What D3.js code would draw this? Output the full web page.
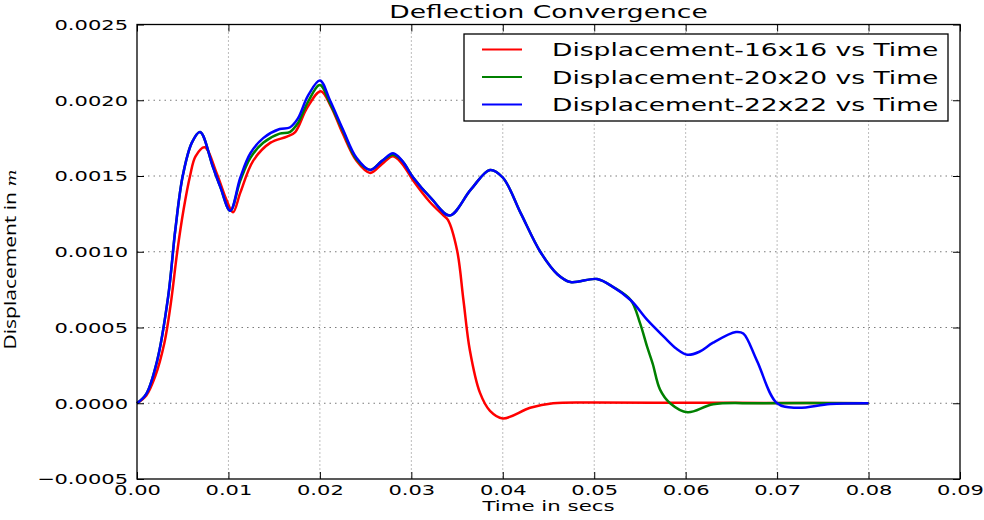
<!DOCTYPE html>
<html>
<head>
<meta charset="utf-8">
<script src="https://cdn.jsdelivr.net/npm/d3@7"></script>
<style>
  html, body { margin: 0; padding: 0; background: #fff; }
  svg { display: block; }
</style>
</head>
<body>
<svg id="chart" width="984" height="520"></svg>
<script>
// Mesh-convergence study: mid-span displacement over time for three meshes.
const seriesNames = [
  "Displacement-16x16 vs Time",
  "Displacement-20x20 vs Time",
  "Displacement-22x22 vs Time"
];
const seriesColors = ["#ff0000", "#008000", "#0000ff"];

const time16 = [0, 0.001, 0.002, 0.003, 0.0037, 0.0044, 0.0051, 0.0058, 0.0064, 0.0074, 0.0087, 0.0098, 0.0105,
  0.0113, 0.0127, 0.0146, 0.0164, 0.0173, 0.0186, 0.0201, 0.0212, 0.0225, 0.024, 0.0255, 0.0268, 0.028,
  0.029, 0.0302, 0.032, 0.0335, 0.034, 0.035, 0.0357, 0.0364, 0.0375, 0.0386, 0.040, 0.043, 0.0455,
  0.050, 0.060, 0.070, 0.080];
const disp16 = [0, 0.00005, 0.00018, 0.0004, 0.00066, 0.001, 0.00128, 0.0015, 0.00163, 0.00169, 0.00152, 0.00134, 0.00126,
  0.00139, 0.0016, 0.00172, 0.00176, 0.00179, 0.00195, 0.00206, 0.00196, 0.00178, 0.0016, 0.00152, 0.00158, 0.00163,
  0.00158, 0.00147, 0.00133, 0.00124, 0.00121, 0.00101, 0.00068, 0.00035, 0.00007, -0.00005, -0.0001, -0.00003, 0,
  0.000005, 0.000003, 0.000002, 0];

const time20 = [0, 0.001, 0.0022, 0.0034, 0.0042, 0.005, 0.006, 0.0069, 0.0083, 0.0091, 0.0102, 0.0113,
  0.0124, 0.0138, 0.0156, 0.0167, 0.0176, 0.0187, 0.02, 0.0211, 0.0225, 0.024, 0.0255, 0.0268, 0.028,
  0.029, 0.0302, 0.0322, 0.0342, 0.0365, 0.0386, 0.040, 0.042, 0.0441, 0.046, 0.0474, 0.0503, 0.052,
  0.054, 0.055, 0.0558, 0.0564, 0.0572, 0.0583, 0.0602, 0.063, 0.068, 0.080];
const disp20 = [0, 0.00006, 0.00028, 0.0007, 0.00115, 0.0015, 0.00172, 0.00179, 0.00156, 0.00143, 0.00127, 0.00147,
  0.00162, 0.00172, 0.00178, 0.00179, 0.00185, 0.00199, 0.0021, 0.00198, 0.0018, 0.00161, 0.00154, 0.0016, 0.00164,
  0.0016, 0.00149, 0.00135, 0.00124, 0.00141, 0.00154, 0.00149, 0.00125, 0.001, 0.00085, 0.0008, 0.00082, 0.00077,
  0.00068, 0.00053, 0.00037, 0.00026, 0.00009, 0, -0.00006, -0.000007, 0, 0];

const time22 = [0, 0.001, 0.0022, 0.0034, 0.0042, 0.005, 0.006, 0.0069, 0.0083, 0.0091, 0.0102, 0.0113,
  0.0124, 0.0138, 0.0156, 0.0167, 0.0176, 0.0187, 0.02, 0.0211, 0.0225, 0.024, 0.0255, 0.0268, 0.028,
  0.029, 0.0302, 0.0322, 0.0342, 0.0365, 0.0386, 0.040, 0.042, 0.0441, 0.046, 0.0474, 0.0503, 0.052,
  0.054, 0.0558, 0.0576, 0.059, 0.0602, 0.0615, 0.063, 0.0655, 0.0663, 0.0678, 0.070, 0.0722, 0.0758, 0.080];
const disp22 = [0, 0.00006, 0.00028, 0.0007, 0.00115, 0.0015, 0.00172, 0.00179, 0.00156, 0.00143, 0.00127, 0.00149,
  0.00165, 0.00175, 0.00181, 0.00182, 0.00188, 0.00203, 0.00213, 0.002, 0.00181, 0.00162, 0.00154, 0.0016, 0.00165,
  0.0016, 0.00149, 0.00135, 0.00124, 0.00141, 0.00154, 0.00149, 0.00125, 0.001, 0.00085, 0.0008, 0.00082, 0.00077,
  0.00068, 0.00055, 0.00044, 0.00036, 0.00032, 0.00034, 0.0004, 0.00047, 0.00046, 0.00028, 0, -0.00003, -0.000005, 0];

const xTicks = [0, 0.01, 0.02, 0.03, 0.04, 0.05, 0.06, 0.07, 0.08, 0.09];
const yTicks = [-0.0005, 0, 0.0005, 0.001, 0.0015, 0.002, 0.0025];

const series = [
  { name: seriesNames[0], color: seriesColors[0], t: time16, v: disp16 },
  { name: seriesNames[1], color: seriesColors[1], t: time20, v: disp20 },
  { name: seriesNames[2], color: seriesColors[2], t: time22, v: disp22 }
];

// Text in this figure is drawn wide; glyphs get a horizontal stretch.
const SX = 1.45;
const FONT = "'DejaVu Sans', sans-serif";

const svg = d3.select("#chart");
const plotLeft = 137, plotRight = 960, plotTop = 24.5, plotBottom = 479;

const x = d3.scaleLinear().domain([0, 0.09]).range([plotLeft, plotRight]);
const y = d3.scaleLinear().domain([-0.0005, 0.0025]).range([plotBottom, plotTop]);

// grid
const grid = svg.append("g");
grid.selectAll("line.v").data(xTicks.slice(1, -1)).join("line")
  .attr("x1", d => x(d)).attr("x2", d => x(d))
  .attr("y1", plotTop).attr("y2", plotBottom)
  .attr("stroke", "#7a7a7a").attr("stroke-width", 1)
  .attr("stroke-dasharray", "1,3");
grid.selectAll("line.h").data(yTicks.slice(1, -1)).join("line")
  .attr("x1", plotLeft).attr("x2", plotRight)
  .attr("y1", d => y(d)).attr("y2", d => y(d))
  .attr("stroke", "#7a7a7a").attr("stroke-width", 1)
  .attr("stroke-dasharray", "1.5,4");

// curves
const line = d3.line()
  .x(d => x(d[0])).y(d => y(d[1]))
  .curve(d3.curveCatmullRom.alpha(0.5));

svg.append("g")
  .selectAll("path").data(series).join("path")
  .attr("d", s => line(s.t.map((t, i) => [t, s.v[i]])))
  .attr("fill", "none")
  .attr("stroke", s => s.color)
  .attr("stroke-width", 2.5)
  .attr("stroke-linejoin", "round");

// axes with inward ticks on all four sides
const TICK = 7;
const fmtX = d3.format(".2f");
const fmtY = d3.format(".4f");

const gx = svg.append("g").attr("transform", `translate(0,${plotBottom})`)
  .call(d3.axisBottom(x).tickValues(xTicks).tickFormat(fmtX).tickSizeInner(-TICK).tickSizeOuter(0).tickPadding(0));
gx.selectAll("text")
  .attr("y", 6).attr("dy", "0.71em")
  .attr("transform", `scale(${SX},1)`)
  .style("font-family", FONT).style("font-size", "14.5px").attr("fill", "#000");

const gy = svg.append("g").attr("transform", `translate(${plotLeft},0)`)
  .call(d3.axisLeft(y).tickValues(yTicks).tickFormat(fmtY).tickSizeInner(-TICK).tickSizeOuter(0).tickPadding(0));
gy.selectAll("text")
  .attr("x", -9 / SX).attr("dy", "0.34em")
  .attr("transform", `scale(${SX},1)`)
  .style("font-family", FONT).style("font-size", "14.5px").attr("fill", "#000");

svg.append("g").attr("transform", `translate(0,${plotTop})`)
  .call(d3.axisTop(x).tickValues(xTicks).tickFormat("").tickSizeInner(-TICK).tickSizeOuter(0));
svg.append("g").attr("transform", `translate(${plotRight},0)`)
  .call(d3.axisRight(y).tickValues(yTicks).tickFormat("").tickSizeInner(-TICK).tickSizeOuter(0));

svg.selectAll(".domain").remove();
svg.selectAll(".tick line").attr("stroke", "#000").attr("stroke-width", 1);

// frame
svg.append("rect")
  .attr("x", plotLeft).attr("y", plotTop)
  .attr("width", plotRight - plotLeft).attr("height", plotBottom - plotTop)
  .attr("fill", "none").attr("stroke", "#000").attr("stroke-width", 1.3);

// title
const cx = (plotLeft + plotRight) / 2;
svg.append("text")
  .attr("transform", `translate(${cx},18) scale(${SX},1)`)
  .attr("text-anchor", "middle")
  .style("font-family", FONT).style("font-size", "18.3px")
  .text("Deflection Convergence");

// x label
svg.append("text")
  .attr("transform", `translate(${cx},511) scale(${SX},1)`)
  .attr("text-anchor", "middle")
  .style("font-family", FONT).style("font-size", "14.7px")
  .text("Time in secs");

// y label
const yl = svg.append("text")
  .attr("transform", `translate(15.5,259.5) rotate(-90) scale(1,0.74)`)
  .attr("text-anchor", "middle")
  .style("font-family", "'Open Sans', sans-serif").style("font-size", "21px");
yl.append("tspan").text("Displacement in ");
yl.append("tspan").style("font-family", "'DejaVu Serif', serif").style("font-style", "italic")
  .style("font-size", "18px").text("m");

// legend
const lg = svg.append("g");
lg.append("rect")
  .attr("x", 464).attr("y", 34).attr("width", 484).attr("height", 87)
  .attr("fill", "#fff").attr("stroke", "#000").attr("stroke-width", 1.3);
const rowY = [49.5, 77, 104.5];
const rows = lg.selectAll("g.row").data(series).join("g")
  .attr("transform", (d, i) => `translate(0,${rowY[i]})`);
rows.append("line")
  .attr("x1", 482).attr("x2", 522).attr("y1", 0).attr("y2", 0)
  .attr("stroke", d => d.color).attr("stroke-width", 2);
rows.append("text")
  .attr("transform", `translate(552,6.5) scale(${SX},1)`)
  .style("font-family", FONT).style("font-size", "18.3px")
  .text(d => d.name);
</script>
</body>
</html>
